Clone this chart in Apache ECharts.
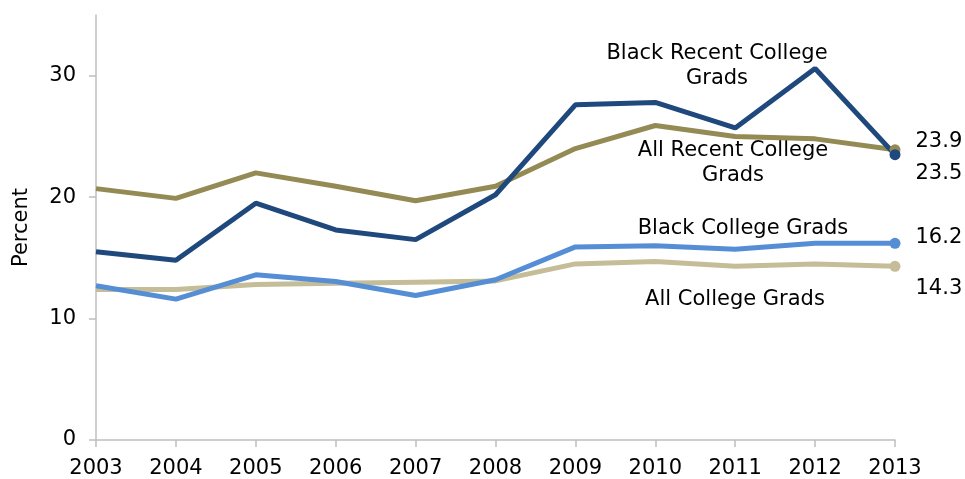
<!DOCTYPE html>
<html><head><meta charset="utf-8">
<script src="https://cdn.jsdelivr.net/npm/echarts@6/dist/echarts.min.js"></script>
<style>html,body{margin:0;padding:0;background:#fff}#c{width:965px;height:479px}</style>
</head><body><div id="c"></div>
<script>
const years = ['2003','2004','2005','2006','2007','2008','2009','2010','2011','2012','2013'];
const blackRecent = [15.5,14.8,19.5,17.3,16.5,20.2,27.6,27.8,25.7,30.6,23.5];
const allRecent   = [20.7,19.9,22.0,20.9,19.7,20.9,24.0,25.9,25.0,24.8,23.9];
const blackGrads  = [12.7,11.6,13.6,13.05,11.9,13.2,15.9,16.0,15.7,16.2,16.2];
const allGrads    = [12.4,12.4,12.8,12.9,13.0,13.1,14.5,14.7,14.3,14.5,14.3];
const yTicks = [0,10,20,30];
const FONT = 'DejaVu Sans';
const FS = 21;

function mk(name, data, color, endOffset) {
  return {
    name, type: 'line', data: data.map((v, i) => {
      if (i === data.length - 1) {
        return { value: v, symbol: 'circle', symbolSize: 11,
          label: { show: true, position: 'right', distance: 15, offset: [0, endOffset],
                   formatter: v.toFixed(1), color: '#000', fontSize: FS, fontFamily: FONT } };
      }
      return { value: v, symbol: 'none' };
    }),
    lineStyle: { color, width: 5 }, itemStyle: { color },
    showSymbol: true, symbol: 'none', z: 2, animation: false
  };
}

const chart = echarts.init(document.getElementById('c'), null, { renderer: 'canvas' });
const txtStyle = s => ({ text: s, fill: '#000', font: FS + 'px "' + FONT + '"', align: 'center', lineHeight: 25 });
chart.setOption({
  animation: false,
  grid: { left: 96, right: 70, top: 15, bottom: 39 },
  xAxis: {
    type: 'category', data: years, boundaryGap: false,
    axisLine: { lineStyle: { color: '#BFBFBF', width: 1.5 } },
    axisTick: { show: true, length: 7, alignWithLabel: true, lineStyle: { color: '#BFBFBF', width: 1.5 } },
    axisLabel: { color: '#000', fontSize: FS, fontFamily: FONT, margin: 18 }
  },
  yAxis: {
    type: 'value', min: 0, max: 35, interval: 10,
    name: 'Percent', nameLocation: 'middle', nameGap: 64, nameRotate: 90,
    nameTextStyle: { color: '#000', fontSize: FS, fontFamily: FONT },
    axisLine: { show: true, lineStyle: { color: '#BFBFBF', width: 1.5 } },
    axisTick: { show: true, length: 7, customValues: yTicks, lineStyle: { color: '#BFBFBF', width: 1.5 } },
    splitLine: { show: false },
    axisLabel: { color: '#000', fontSize: FS, fontFamily: FONT, margin: 20, customValues: yTicks,
      formatter: v => yTicks.includes(v) ? String(v) : '' }
  },
  series: [
    mk('All College Grads', allGrads, '#C4BD97', 22),
    mk('Black College Grads', blackGrads, '#558ED5', -6),
    mk('All Recent College Grads', allRecent, '#948A54', -8),
    mk('Black Recent College Grads', blackRecent, '#1F497D', 19)
  ],
  graphic: [
    { type: 'text', x: 717, y: 41, style: txtStyle('Black Recent College\nGrads') },
    { type: 'text', x: 733, y: 138, style: txtStyle('All Recent College\nGrads') },
    { type: 'text', x: 743, y: 216, style: txtStyle('Black College Grads') },
    { type: 'text', x: 735, y: 287, style: txtStyle('All College Grads') }
  ]
});
</script></body></html>
